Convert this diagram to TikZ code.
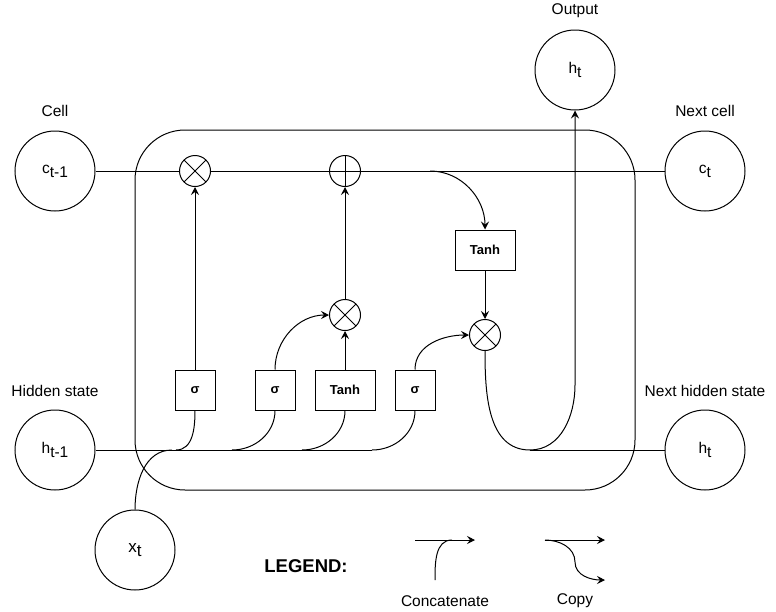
\documentclass[tikz,border=0pt]{standalone}
\usepackage{fontspec}
\setmainfont{Liberation Sans}
\usetikzlibrary{arrows.meta}

\begin{document}
\begin{tikzpicture}[x=1pt,y=-1pt,line width=1pt,
  >={Stealth[length=8pt,width=8pt,inset=3pt]},
  every node/.style={font=\fontsize{15.5}{18}\selectfont},
  state/.style={circle,draw,minimum size=80pt,inner sep=0pt},
  gate/.style={draw,minimum width=40pt,minimum height=40pt,inner sep=0pt,font=\fontsize{13}{15}\selectfont\bfseries},
  wgate/.style={gate,minimum width=60pt},
  mult/.style={circle,draw,minimum size=31pt,inner sep=0pt,
    path picture={\draw (path picture bounding box.north west) -- (path picture bounding box.south east)
      (path picture bounding box.north east) -- (path picture bounding box.south west);}},
  plus/.style={circle,draw,minimum size=31pt,inner sep=0pt,
    path picture={\draw (path picture bounding box.north) -- (path picture bounding box.south)
      (path picture bounding box.east) -- (path picture bounding box.west);}}]
  \useasboundingbox (0,0) rectangle (776,611);

  \node[draw,rounded corners=50pt,minimum width=500pt,minimum height=360pt] (cell) at (385,310) {};

  \node[state] (cprev) at (55,171) {c\raisebox{-4pt}{t-1}};
  \node[state] (hprev) at (55,450) {h\raisebox{-4pt}{t-1}};
  \node[state] (xin) at (135,550) {\fontsize{17}{18}\selectfont x\raisebox{-4pt}{t}};
  \node[state] (hout) at (575,70) {h\raisebox{-4pt}{t}};
  \node[state] (cnext) at (705,171) {c\raisebox{-4pt}{t}};
  \node[state] (hnext) at (705,450) {h\raisebox{-4pt}{t}};

  \node (lcell) at (55,111) {Cell};
  \node (lhidden) at (55,391) {Hidden state};
  \node (lout) at (575,11) {Output};
  \node (lnextc) at (705,111) {Next cell};
  \node (lnexth) at (705,391) {Next hidden state};

  \node[mult] (mulf) at (195,171) {};
  \node[plus] (addc) at (345,171) {};
  \node[mult] (muli) at (345,315) {};
  \node[mult] (mulo) at (485,335) {};

  \node[gate] (sigf) at (195,390) {σ};
  \node[gate] (sigi) at (275,390) {σ};
  \node[wgate] (tanhc) at (345,390) {Tanh};
  \node[gate] (sigo) at (415,390) {σ};
  \node[wgate] (tanhh) at (485,250) {Tanh};

  \coordinate (split) at (430,171);
  \coordinate (jx) at (172,450);
  \coordinate (jf) at (176,450);
  \coordinate (ji) at (232,450);
  \coordinate (jc) at (302,450);
  \coordinate (jo) at (372,450);
  \coordinate (hend) at (372,450);
  \coordinate (ubot) at (530,450);
  \coordinate (urise) at (575,385);

  \draw (cprev) -- (mulf) -- (addc) -- (cnext);
  \draw[->] (sigf) -- (mulf);
  \draw[->] (sigi.north) to[out=90,in=180] (muli.west);
  \draw[->] (tanhc) -- (muli);
  \draw[->] (muli) -- (addc);
  \draw[->] (sigo.north) to[out=90,in=180] (mulo.west);
  \draw[->] (split) to[out=0,in=90] (tanhh.north);
  \draw[->] (tanhh) -- (mulo);
  \draw[->] (mulo.south) to[out=-90,in=180] (ubot) to[out=0,in=-90] (urise) -- (hout.south);
  \draw (ubot) -- (hnext);

  \draw (hprev) -- (hend);
  \draw (xin.north) to[out=90,in=180] (jx);
  \draw (jf) to[out=0,in=-90] (sigf.south);
  \draw (ji) to[out=0,in=-90] (sigi.south);
  \draw (jc) to[out=0,in=-90] (tanhc.south);
  \draw (jo) to[out=0,in=-90] (sigo.south);

  \node[font=\fontsize{18.5}{20}\selectfont\bfseries] (legend) at (306,566) {LEGEND:};
  \coordinate (ca) at (415,540);
  \coordinate (cb) at (475,540);
  \coordinate (cc) at (435,580);
  \coordinate (cd) at (452,540);
  \draw[->] (ca) -- (cb);
  \draw (cc) to[out=90,in=180] (cd);
  \node (lconcat) at (445,601) {Concatenate};
  \coordinate (pa) at (545,540);
  \coordinate (pb) at (605,540);
  \coordinate (pc) at (575,562);
  \coordinate (pd) at (605,580);
  \draw[->] (pa) -- (pb);
  \draw[->] (pa) to[out=0,in=90] (pc) to[out=-90,in=180] (pd);
  \node (lcopy) at (575,601) {Copy};
\end{tikzpicture}
\end{document}
